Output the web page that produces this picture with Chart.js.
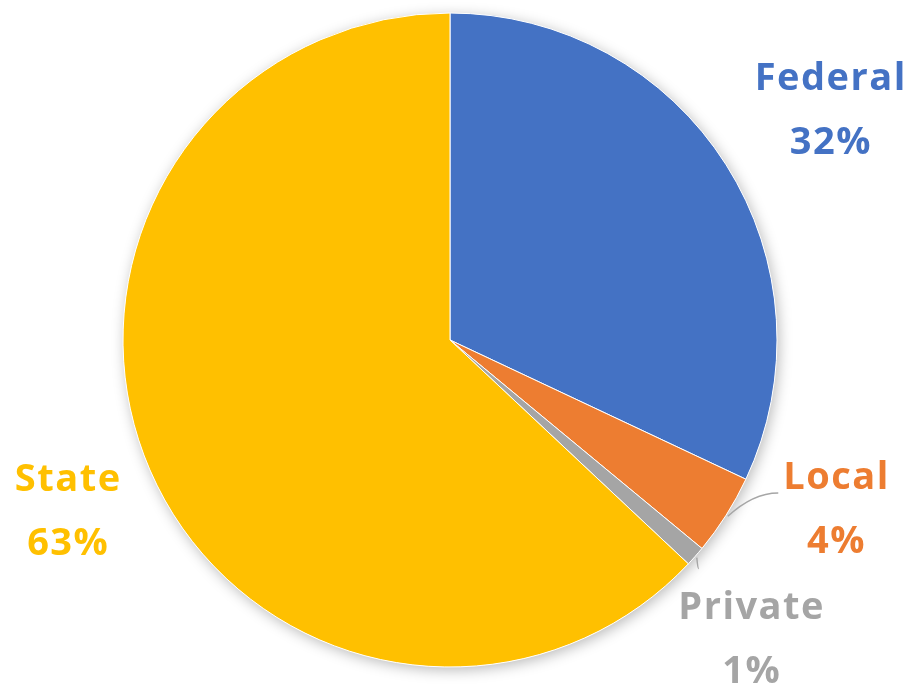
<!DOCTYPE html>
<html>
<head>
<meta charset="utf-8">
<script src="https://cdn.jsdelivr.net/npm/chart.js@4/dist/chart.umd.min.js"></script>
<style>
  html, body { margin: 0; padding: 0; background: #fff; }
  #pie { display: block; }
</style>
</head>
<body>
<canvas id="pie" width="912" height="690"></canvas>
<script>
const categories = ['Federal', 'Local', 'Private', 'State']
const shares = [32, 4, 1, 63]
const sliceColors = ['#4472C4', '#ED7D31', '#A5A5A5', '#FFC000']

// label anchor: turn from the slice middle (deg) and distance in radii
const labelPlacement = [
  { turn: 1.3, dist: 1.36, leader: null },
  { turn: -8.8, dist: 1.29, leader: 'left' },
  { turn: 3.4, dist: 1.30, leader: 'down' },
  { turn: -0.8, dist: 1.28, leader: null }
]

const LABEL_FONT = 'bold 38px "Open Sans", sans-serif'
const LINE_GAP = 64

// soft drop shadow under the whole pie
const pieShadow = {
  id: 'pieShadow',
  beforeDatasetsDraw(chart) {
    const arc = chart.getDatasetMeta(0).data[0]
    if (!arc) return
    const { x, y, outerRadius } = arc.getProps(['x', 'y', 'outerRadius'], true)
    const ctx = chart.ctx
    ctx.save()
    ctx.shadowColor = 'rgba(0, 0, 0, 0.28)'
    ctx.shadowBlur = 14
    ctx.shadowOffsetX = 2
    ctx.shadowOffsetY = 3
    ctx.fillStyle = '#fff'
    ctx.beginPath()
    ctx.arc(x, y, outerRadius, 0, Math.PI * 2)
    ctx.fill()
    ctx.restore()
  }
}

// category name + percentage outside each slice
const outsideLabels = {
  id: 'outsideLabels',
  afterDatasetsDraw(chart) {
    const ctx = chart.ctx
    const meta = chart.getDatasetMeta(0)
    ctx.save()
    ctx.font = LABEL_FONT
    ctx.letterSpacing = '1.5px'
    ctx.textAlign = 'center'
    ctx.textBaseline = 'middle'
    meta.data.forEach((arc, i) => {
      const p = arc.getProps(['x', 'y', 'startAngle', 'endAngle', 'outerRadius'], true)
      const mid = (p.startAngle + p.endAngle) / 2
      const place = labelPlacement[i]
      const a = mid + place.turn * Math.PI / 180
      const lx = p.x + Math.cos(a) * p.outerRadius * place.dist
      const ly = p.y + Math.sin(a) * p.outerRadius * place.dist + 1
      const top = ly - LINE_GAP / 2
      const bottom = ly + LINE_GAP / 2

      if (place.leader) {
        const sx = p.x + Math.cos(mid) * (p.outerRadius + 2)
        const sy = p.y + Math.sin(mid) * (p.outerRadius + 2)
        let ex, ey
        if (place.leader === 'left') {
          ex = lx - ctx.measureText(categories[i]).width / 2 - 5
          ey = top + 15
        } else {
          ex = sx + 2
          ey = sy + 11
        }
        ctx.strokeStyle = '#A6A6A6'
        ctx.lineWidth = 1.5
        ctx.beginPath()
        ctx.moveTo(sx, sy)
        ctx.quadraticCurveTo((sx + ex) / 2, ey, ex, ey)
        ctx.stroke()
      }

      ctx.fillStyle = sliceColors[i]
      ctx.fillText(categories[i], lx, top)
      ctx.fillText(shares[i] + '%', lx, bottom)
    })
    ctx.restore()
  }
}

new Chart(document.getElementById('pie').getContext('2d'), {
  type: 'pie',
  data: {
    labels: categories,
    datasets: [{
      data: shares,
      backgroundColor: sliceColors,
      borderColor: '#fff',
      borderWidth: 1,
      radius: 327
    }]
  },
  options: {
    responsive: false,
    animation: false,
    layout: { padding: { left: 100, right: 112, top: 0, bottom: 10 } },
    plugins: {
      legend: { display: false },
      tooltip: { enabled: false }
    }
  },
  plugins: [pieShadow, outsideLabels]
})
</script>
</body>
</html>
